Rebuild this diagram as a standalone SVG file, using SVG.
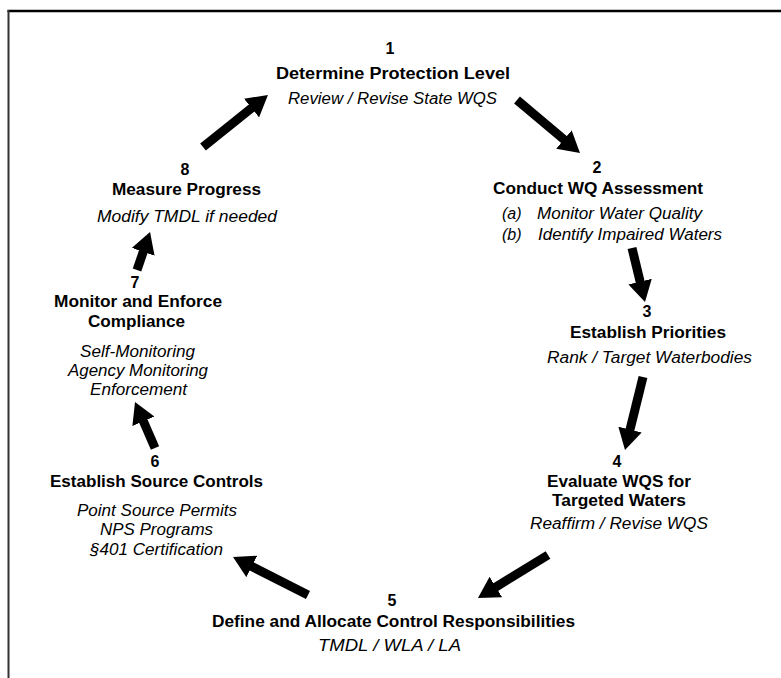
<svg xmlns="http://www.w3.org/2000/svg" width="781" height="678" viewBox="0 0 781 678">
<style>
.t{font-family:"Liberation Sans",Arial,sans-serif;font-weight:bold;font-size:16px;fill:#000;text-anchor:middle}
.s{font-family:"Liberation Sans",Arial,sans-serif;font-style:italic;font-size:16px;fill:#000;text-anchor:middle}
.sl{font-family:"Liberation Sans",Arial,sans-serif;font-style:italic;font-size:16px;fill:#000}
.a{stroke:#000;stroke-width:9;fill:none;marker-end:url(#ah)}
</style>
<defs>
<marker id="ah" markerUnits="userSpaceOnUse" markerWidth="21" markerHeight="24" viewBox="0 0 21 24" refX="3" refY="12" orient="auto">
<path d="M0,0 L21,12 L0,24 z" fill="#000"/>
</marker>
</defs>
<rect width="781" height="678" fill="#fff"/>
<g id="frame">
<line x1="7.5" y1="11" x2="781" y2="11" stroke="#000" stroke-width="2.5"/>
<line x1="8.5" y1="10" x2="8.5" y2="678" stroke="#333" stroke-width="2"/>
</g>
<g id="connectors">
<line class="a" x1="203" y1="147" x2="253.9" y2="106.2"/>
<line class="a" x1="517" y1="100" x2="566.2" y2="141.4"/>
<line class="a" x1="632" y1="248" x2="640.8" y2="284.5"/>
<line class="a" x1="643" y1="377" x2="629.3" y2="432.5"/>
<line class="a" x1="548" y1="555" x2="493.3" y2="588.6"/>
<line class="a" x1="308" y1="595" x2="249.1" y2="565.1"/>
<line class="a" x1="155" y1="448" x2="142.2" y2="418.5"/>
<line class="a" x1="137" y1="270" x2="144.2" y2="249"/>
</g>
<g id="node1">
<text class="t" x="390" y="54">1</text>
<text class="t" x="393" y="79" textLength="234" lengthAdjust="spacingAndGlyphs">Determine Protection Level</text>
<text class="s" x="392.5" y="104" textLength="209" lengthAdjust="spacingAndGlyphs">Review / Revise State WQS</text>
</g>
<g id="node2">
<text class="t" x="597" y="173">2</text>
<text class="t" x="598" y="194" textLength="210" lengthAdjust="spacingAndGlyphs">Conduct WQ Assessment</text>
<text class="sl" x="502" y="219">(a)</text>
<text class="sl" x="537" y="219" textLength="165" lengthAdjust="spacingAndGlyphs">Monitor Water Quality</text>
<text class="sl" x="502" y="240">(b)</text>
<text class="sl" x="538" y="240" textLength="184" lengthAdjust="spacingAndGlyphs">Identify Impaired Waters</text>
</g>
<g id="node3">
<text class="t" x="647" y="317">3</text>
<text class="t" x="648" y="338" textLength="156" lengthAdjust="spacingAndGlyphs">Establish Priorities</text>
<text class="s" x="649.5" y="363" textLength="205" lengthAdjust="spacingAndGlyphs">Rank / Target Waterbodies</text>
</g>
<g id="node4">
<text class="t" x="617" y="467">4</text>
<text class="t" x="619" y="487" textLength="144" lengthAdjust="spacingAndGlyphs">Evaluate WQS for</text>
<text class="t" x="619" y="506" textLength="134" lengthAdjust="spacingAndGlyphs">Targeted Waters</text>
<text class="s" x="619" y="529" textLength="178" lengthAdjust="spacingAndGlyphs">Reaffirm / Revise WQS</text>
</g>
<g id="node5">
<text class="t" x="392" y="606">5</text>
<text class="t" x="393.5" y="627" textLength="363" lengthAdjust="spacingAndGlyphs">Define and Allocate Control Responsibilities</text>
<text class="s" x="389.5" y="651" textLength="143" lengthAdjust="spacingAndGlyphs">TMDL / WLA / LA</text>
</g>
<g id="node6">
<text class="t" x="155" y="467">6</text>
<text class="t" x="156.5" y="487" textLength="213" lengthAdjust="spacingAndGlyphs">Establish Source Controls</text>
<text class="s" x="157" y="516" textLength="160" lengthAdjust="spacingAndGlyphs">Point Source Permits</text>
<text class="s" x="156.5" y="535" textLength="113" lengthAdjust="spacingAndGlyphs">NPS Programs</text>
<text class="s" x="156.5" y="555" textLength="133" lengthAdjust="spacingAndGlyphs">§401 Certification</text>
</g>
<g id="node7">
<text class="t" x="135" y="288">7</text>
<text class="t" x="138" y="307" textLength="168" lengthAdjust="spacingAndGlyphs">Monitor and Enforce</text>
<text class="t" x="136.5" y="327" textLength="97" lengthAdjust="spacingAndGlyphs">Compliance</text>
<text class="s" x="137.5" y="357" textLength="115" lengthAdjust="spacingAndGlyphs">Self-Monitoring</text>
<text class="s" x="138" y="376" textLength="140" lengthAdjust="spacingAndGlyphs">Agency Monitoring</text>
<text class="s" x="138.5" y="395" textLength="97" lengthAdjust="spacingAndGlyphs">Enforcement</text>
</g>
<g id="node8">
<text class="t" x="185" y="175">8</text>
<text class="t" x="186.5" y="195" textLength="149" lengthAdjust="spacingAndGlyphs">Measure Progress</text>
<text class="s" x="187" y="222" textLength="180" lengthAdjust="spacingAndGlyphs">Modify TMDL if needed</text>
</g>
</svg>
